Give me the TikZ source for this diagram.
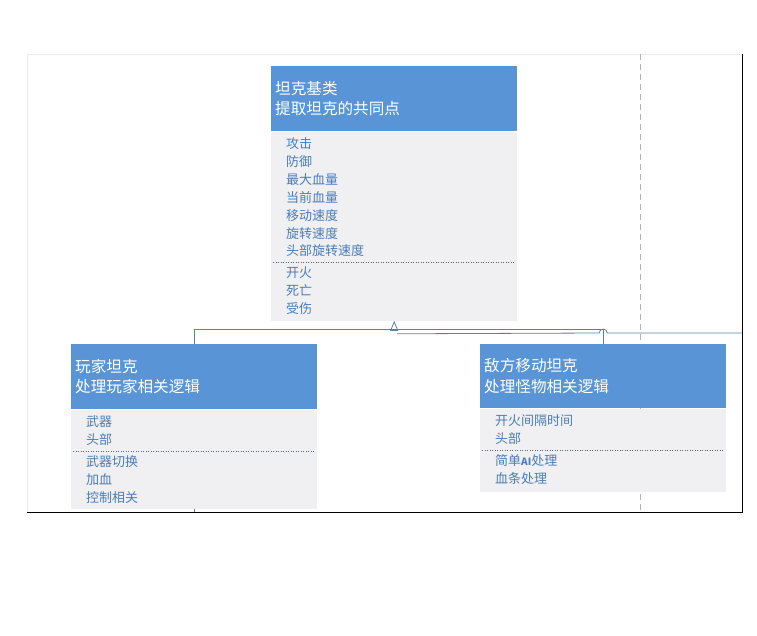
\documentclass[tikz,border=0pt]{standalone}
\usepackage{fontspec}
\setmainfont{Noto Sans CJK SC}
\usetikzlibrary{arrows.meta,positioning,calc}
\definecolor{hdrblue}{HTML}{5894D6}
\definecolor{bodygray}{HTML}{F0F0F2}
\definecolor{itemblue}{HTML}{4A7DB6}
\definecolor{linkblue}{HTML}{5A80AA}
\definecolor{sepblue}{HTML}{50688A}

\begin{document}
\begin{tikzpicture}[
    x=1pt, y=-1pt,
    head/.style={fill=hdrblue, text=white, anchor=north west, minimum width=246pt, minimum height=65pt, text width=238pt, inner xsep=4pt, inner ysep=0pt, align=left, font=\fontsize{15.6}{20.5}\selectfont},
    body/.style={fill=bodygray, anchor=north, minimum width=246pt, inner sep=0pt},
    items/.style={text=itemblue, anchor=north west, align=left, inner sep=0pt, font=\fontsize{13}{17.9}\selectfont},
    sep/.style={draw=sepblue, dotted, line width=0.5pt},
    link/.style={draw=linkblue, line width=0.8pt},
    gen/.style={link, -{Triangle[open, length=10pt, width=8pt]}},
]
\useasboundingbox (0,0) rectangle (757,636);

% Page frame
\draw[black!8] (27,512) -- (27,54) -- (742,54);
\draw[black, line width=0.8pt] (27,512) -- (742,512) -- (742,54);
\draw[black!30, dashed, dash pattern=on 6pt off 4pt] (640,54) -- (640,512);

% Base class
\node[head] (basehead) at (271,66) {坦克基类\\提取坦克的共同点};
\node[body, minimum height=189pt, below=0pt of basehead] (basebody) {};
\node[items] (baseattr) at ($(basebody.north west)+(15,6)$) {攻击\\防御\\最大血量\\当前血量\\移动速度\\旋转速度\\头部旋转速度};
\draw[sep] ($(baseattr.south -| basebody.west)+(2,5.5)$) -- ($(baseattr.south -| basebody.east)+(-4,5.5)$);
\node[items, below=9.5pt of baseattr.south west, anchor=north west] (baseops) {开火\\死亡\\受伤};

% Player tank
\node[head] (playerhead) at (71,344) {玩家坦克\\处理玩家相关逻辑};
\node[body, minimum height=99pt, below=0pt of playerhead] (playerbody) {};
\node[items] (playerattr) at ($(playerbody.north west)+(15,6)$) {武器\\头部};
\node[items, below=9.5pt of playerattr.south west, anchor=north west] (playerops) {武器切换\\加血\\控制相关};
\draw[sep] ($(playerattr.south -| playerbody.west)+(2,5.5)$) -- ($(playerattr.south -| playerbody.east)+(-4,5.5)$);

% Enemy tank
\node[head, minimum height=64pt] (enemyhead) at (480,344) {敌方移动坦克\\处理怪物相关逻辑};
\node[body, minimum height=83pt, below=0pt of enemyhead] (enemybody) {};
\node[items] (enemyattr) at ($(enemybody.north west)+(15,6)$) {开火间隔时间\\头部};
\node[items, below=9.5pt of enemyattr.south west, anchor=north west] (enemyops) {简单{\fontsize{10}{12}\selectfont\bfseries AI}处理\\血条处理};
\draw[sep] ($(enemyattr.south -| enemybody.west)+(2,5.5)$) -- ($(enemyattr.south -| enemybody.east)+(-4,5.5)$);

% Inheritance
\draw[gen] (playerhead.north) |- ($(basebody.south)+(0,9)$) -- (basebody.south);
\draw[link] (enemyhead.north) |- ($(basebody.south)+(0,9)$);
\draw[link] (playerbody.south) -- (playerbody.south |- 0,512);

% Off-page link, hopping over the enemy line
\coordinate (offpage) at (742,333);
\draw[link] ($(basebody.south)+(3,13)$) -- ($(enemyhead.north |- offpage)+(-4,0)$) arc (180:360:4) -- (offpage);

\end{tikzpicture}
\end{document}
